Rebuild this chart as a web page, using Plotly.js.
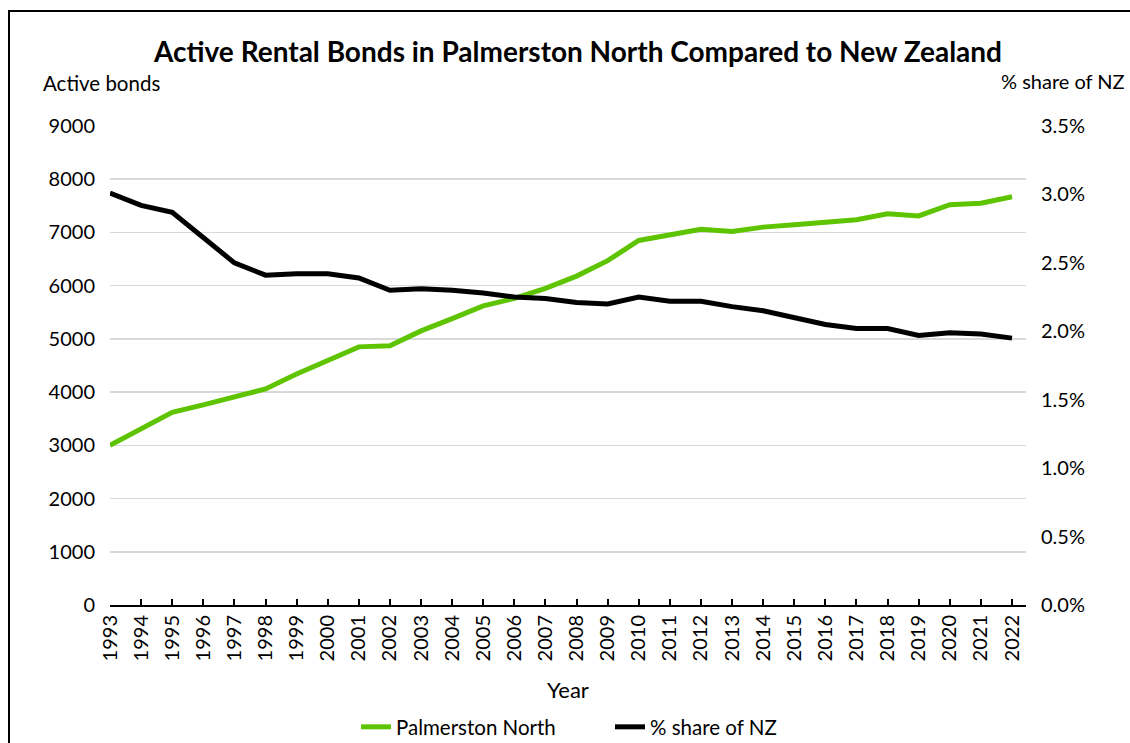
<!DOCTYPE html>
<html>
<head>
<meta charset="utf-8">
<script src="https://cdn.plot.ly/plotly-3.0.1.min.js"></script>
<style>
  html, body { margin: 0; padding: 0; width: 1130px; height: 743px; overflow: hidden; background: #fff; }
  #frame { position: absolute; left: 8px; top: 10px; width: 1200px; height: 800px; border: 2px solid #000; box-sizing: border-box; }
  #chart { position: absolute; left: 0; top: 0; width: 1130px; height: 743px; }
</style>
</head>
<body>
<div id="frame"></div>
<div id="chart"></div>
<script>
const years = ["1993","1994","1995","1996","1997","1998","1999","2000","2001","2002",
               "2003","2004","2005","2006","2007","2008","2009","2010","2011","2012",
               "2013","2014","2015","2016","2017","2018","2019","2020","2021","2022"];
const palmerstonNorth = [3000, 3300, 3620, 3760, 3900, 4060, 4340, 4600, 4850, 4870,
                         5150, 5380, 5620, 5760, 5950, 6180, 6470, 6850, 6960, 7060,
                         7020, 7100, 7145, 7190, 7240, 7350, 7310, 7520, 7550, 7670];
const shareOfNZ = [3.01, 2.92, 2.87, 2.68, 2.50, 2.41, 2.42, 2.42, 2.39, 2.30,
                   2.31, 2.30, 2.28, 2.25, 2.24, 2.21, 2.20, 2.25, 2.22, 2.22,
                   2.18, 2.15, 2.10, 2.05, 2.02, 2.02, 1.97, 1.99, 1.98, 1.95];

const FONT = "Lato, 'Open Sans', sans-serif";
const GREEN = "#5ec400";

const traces = [
  { type: "scatter", mode: "lines", name: "Palmerston North", x: years, y: palmerstonNorth,
    line: { color: GREEN, width: 5 }, yaxis: "y" },
  { type: "scatter", mode: "lines", name: "% share of NZ", x: years, y: shareOfNZ,
    line: { color: "#000000", width: 5 }, yaxis: "y2" }
];

const layout = {
  width: 1130, height: 743,
  margin: { l: 110, r: 104, t: 126, b: 137.5, autoexpand: false },
  paper_bgcolor: "rgba(0,0,0,0)",
  plot_bgcolor: "rgba(0,0,0,0)",
  font: { family: FONT, size: 20, color: "#000" },
  title: { text: "<b>Active Rental Bonds in Palmerston North Compared to New Zealand</b>",
           font: { family: FONT, size: 28, color: "#000" },
           x: 0.5115, xanchor: "center", xref: "container", y: 1 - 52/743, yanchor: "middle" },
  xaxis: {
    type: "category", range: [0, 29.45],
    showline: true, linecolor: "#000", linewidth: 2,
    ticks: "inside", ticklen: 6, tickwidth: 2, tickcolor: "#000",
    tickangle: -90, tickfont: { family: FONT, size: 20, color: "#000" },
    showgrid: false, zeroline: false, fixedrange: true
  },
  yaxis: {
    range: [0, 9000], dtick: 1000, tick0: 0,
    showgrid: true, gridcolor: "#d9d9d9", gridwidth: 1.5,
    showline: false, zeroline: false, ticks: "",
    ticklabelstandoff: 14,
    tickfont: { family: FONT, size: 20, color: "#000" }
  },
  yaxis2: {
    overlaying: "y", side: "right",
    range: [0, 3.5], dtick: 0.5, tick0: 0,
    tickformat: ".1f", ticksuffix: "%",
    showgrid: false, showline: false, zeroline: false, ticks: "",
    ticklabelstandoff: 14,
    tickfont: { family: FONT, size: 20, color: "#000" }
  },
  showlegend: true,
  legend: {
    orientation: "h", xref: "container", yref: "container",
    x: 610 / 1130, xanchor: "center", y: 1 - 727 / 743, yanchor: "middle",
    font: { family: FONT, size: 20.5, color: "#000" },
    bgcolor: "rgba(0,0,0,0)", tracegroupgap: 0,
    entrywidth: 209, entrywidthmode: "pixels"
  },
  annotations: [
    { text: "Active bonds", xref: "paper", yref: "paper", x: (41 - 110) / 916, y: (605.5 - 83) / 479.5,
      xanchor: "left", yanchor: "middle", showarrow: false, font: { family: FONT, size: 20.5, color: "#000" } },
    { text: "% share of NZ", xref: "paper", yref: "paper", x: (1127 - 110) / 916, y: (605.5 - 81) / 479.5,
      xanchor: "right", yanchor: "middle", showarrow: false, font: { family: FONT, size: 20, color: "#000" } },
    { text: "Year", xref: "paper", yref: "paper", x: (568 - 110) / 916, y: (605.5 - 690) / 479.5,
      xanchor: "center", yanchor: "middle", showarrow: false, font: { family: FONT, size: 22, color: "#000" } }
  ]
};

Plotly.newPlot("chart", traces, layout, { displayModeBar: false, staticPlot: true });
</script>
</body>
</html>
